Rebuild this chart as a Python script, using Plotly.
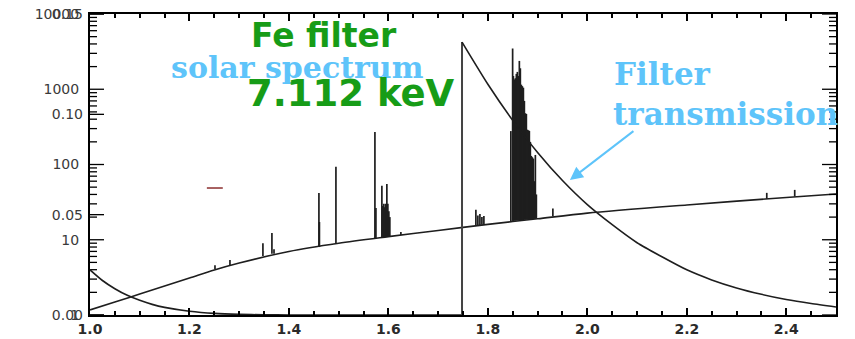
import plotly.graph_objects as go

# --- solar spectrum (counts, log axis) ---
# smooth continuum, wavelength in Angstrom
continuum_wl = [1.00, 1.05, 1.10, 1.20, 1.25, 1.30, 1.40, 1.50, 1.60, 1.70,
                1.80, 1.90, 2.00, 2.20, 2.40, 2.50]
continuum_counts = [1.17, 1.49, 1.90, 3.1, 3.96, 4.9, 7.0, 9.0, 11.0, 13.3,
                    16.0, 19.0, 22.6, 29.0, 36.4, 40.5]

# emission lines: wavelength, base level, peak level
line_wl = [1.2513, 1.2814, 1.3477, 1.3658, 1.3700, 1.4603, 1.4613, 1.4945,
           1.5729, 1.5749, 1.5869, 1.5889, 1.5909, 1.5929, 1.5949, 1.5969,
           1.5989, 1.6009, 1.6029, 1.6251,
           1.7759, 1.7799, 1.7840, 1.7880, 1.7920,
           1.8462, 1.8498, 1.8513, 1.8533, 1.8553, 1.8573, 1.8593, 1.8613,
           1.8633, 1.8653, 1.8673, 1.8693, 1.8714, 1.8734, 1.8754, 1.8774,
           1.8794, 1.8814, 1.8834, 1.8854, 1.8874, 1.8894, 1.8915, 1.8935,
           1.8955, 1.8975,
           1.9307, 2.3608, 2.4170]
line_base = [4.1, 4.6, 6.1, 6.5, 6.5, 8.0, 8.0, 9.0,
             10.5, 10.5, 10.8, 10.8, 10.8, 10.9, 10.9, 11.0,
             11.0, 11.1, 11.1, 11.6,
             15.5, 15.6, 15.7, 15.8, 15.9,
             17.7, 17.8, 17.8, 17.9, 17.9, 18.0, 18.0, 18.1,
             18.1, 18.2, 18.2, 18.3, 18.3, 18.4, 18.4, 18.5,
             18.5, 18.6, 18.6, 18.7, 18.7, 18.8, 18.8, 18.9,
             18.9, 19.0,
             20.5, 35.0, 37.5]
line_peak = [4.6, 5.4, 9.0, 12.3, 7.5, 41.8, 17.2, 93.0,
             270.0, 26.4, 52.0, 28.0, 30.0, 27.0, 30.0, 55.0,
             30.0, 24.0, 20.0, 12.7,
             25.0, 21.0, 22.0, 20.0, 20.7,
             278.0, 3480.0, 1500.0, 1350.0, 1400.0, 1600.0, 1700.0, 1500.0,
             2380.0, 1900.0, 1150.0, 1100.0, 1050.0, 700.0, 480.0, 470.0,
             290.0, 285.0, 280.0, 200.0, 130.0, 125.0, 120.0, 60.0,
             134.0, 40.0,
             26.0, 42.0, 46.0]

# small marker dash
dash_wl = [1.235, 1.267]
dash_counts = [48.7, 48.7]

# --- Fe filter transmission (linear axis) ---
edge_wl = 1.748          # Fe K edge, 7.112 keV
edge_top = 0.136
trans_lo_wl = [1.00, 1.025, 1.05, 1.075, 1.10, 1.125, 1.15, 1.20, 1.25, 1.30,
               1.35, 1.40, 1.50, 1.60, 1.70, 1.748]
trans_lo = [0.0225, 0.0172, 0.0131, 0.0098, 0.0073, 0.0053, 0.0038, 0.0019,
            0.0008, 0.0003, 0.0001, 0.0, 0.0, 0.0, 0.0, 0.0]
trans_hi_wl = [1.748, 1.80, 1.85, 1.90, 1.95, 2.00, 2.05, 2.10, 2.15, 2.20,
               2.25, 2.30, 2.35, 2.40, 2.45, 2.50]
trans_hi = [0.136, 0.115, 0.097, 0.081, 0.067, 0.055, 0.045, 0.036, 0.029,
            0.0225, 0.0175, 0.0135, 0.0103, 0.0077, 0.0057, 0.0040]

# axis ranges and tick labels
x_range = [1.0, 2.5]
log_range = [0, 4]          # decades: 1 .. 10000 counts
lin_range = [0.0, 0.15]     # transmission
log_ticks = [1, 10, 100, 1000, 10000]
log_labels = ["1", "10", "100", "1000", "10000"]
log_minor = [m * 10 ** d for d in range(4) for m in range(2, 10)]
lin_ticks = [0.0, 0.05, 0.10, 0.15]
lin_labels = ["0.00", "0.05", "0.10", "0.15"]
x_ticks = [1.0, 1.2, 1.4, 1.6, 1.8, 2.0, 2.2, 2.4]
x_labels = ["1.0", "1.2", "1.4", "1.6", "1.8", "2.0", "2.2", "2.4"]

INK = "#1e1e1e"
GREEN = "#179c17"
SKY = "#5ec4fa"
PLOT_W = 855 - 90 - 19   # plot-area width in px, for tick lengths

fig = go.Figure()

fig.add_trace(go.Scatter(x=continuum_wl, y=continuum_counts, mode="lines",
                         line=dict(color=INK, width=1.6, shape="spline", smoothing=0.8),
                         yaxis="y", hoverinfo="skip"))

seg_x, seg_y = [], []
for wl, b, p in zip(line_wl, line_base, line_peak):
    seg_x += [wl, wl, None]
    seg_y += [b, p, None]
fig.add_trace(go.Scatter(x=seg_x, y=seg_y, mode="lines",
                         line=dict(color=INK, width=1.7), yaxis="y"))

fig.add_trace(go.Scatter(x=dash_wl, y=dash_counts, mode="lines",
                         line=dict(color="#8b2e2e", width=1.5), yaxis="y"))

fig.add_trace(go.Scatter(x=trans_lo_wl, y=trans_lo, mode="lines",
                         line=dict(color=INK, width=1.6, shape="spline", smoothing=0.6),
                         yaxis="y2"))
fig.add_trace(go.Scatter(x=[edge_wl, edge_wl], y=[0, edge_top], mode="lines",
                         line=dict(color="#444444", width=2), yaxis="y2"))
fig.add_trace(go.Scatter(x=trans_hi_wl, y=trans_hi, mode="lines",
                         line=dict(color=INK, width=1.6, shape="spline", smoothing=0.6),
                         yaxis="y2"))


# inward tick marks on the frame edges, drawn as short line segments
def tick_segments(values, length_px, sides):
    dx = length_px / PLOT_W * (x_range[1] - x_range[0])
    xs, ys = [], []
    for v in values:
        if "left" in sides:
            xs += [x_range[0], x_range[0] + dx, None]
            ys += [v, v, None]
        if "right" in sides:
            xs += [x_range[1] - dx, x_range[1], None]
            ys += [v, v, None]
    return xs, ys


tx, ty = tick_segments(log_ticks, 14, ("left", "right"))
mx, my = tick_segments(log_minor, 7, ("left", "right"))
fig.add_trace(go.Scatter(x=tx + mx, y=ty + my, mode="lines", yaxis="y",
                         line=dict(color="black", width=1.3), hoverinfo="skip",
                         cliponaxis=False))
lx, ly = tick_segments(lin_ticks, 14, ("left",))
fig.add_trace(go.Scatter(x=lx, y=ly, mode="lines", yaxis="y2",
                         line=dict(color="black", width=1.3), hoverinfo="skip",
                         cliponaxis=False))

tick_font = dict(family="DejaVu Sans", size=14, color="#3a3a3a")

fig.update_layout(
    width=855, height=339,
    margin=dict(l=90, r=19, t=14, b=24),
    paper_bgcolor="white", plot_bgcolor="white",
    showlegend=False,
    xaxis=dict(range=x_range, tickvals=x_ticks, ticktext=x_labels,
               ticks="inside", ticklen=7, tickwidth=1.5, tickcolor="black",
               minor=dict(dtick=0.05, tick0=1.0, ticks="inside", ticklen=4,
                          tickcolor="black", showgrid=False),
               showline=True, linewidth=2, linecolor="black", mirror="ticks",
               showgrid=False, zeroline=False, automargin=False,
               tickfont=dict(family="DejaVu Sans", size=14, color="#2a2a2a",
                             weight="bold")),
    yaxis=dict(type="log", range=log_range, tickvals=log_ticks, ticktext=log_labels,
               ticks="", showline=True, linewidth=2, linecolor="black", mirror=True,
               showgrid=False, zeroline=False, automargin=False,
               ticklabelstandoff=6, tickfont=tick_font),
    yaxis2=dict(overlaying="y", side="left", anchor="x", range=lin_range,
                tickvals=lin_ticks, ticktext=lin_labels, ticks="",
                showline=False, showgrid=False, zeroline=False, automargin=False,
                ticklabelstandoff=6, tickfont=tick_font),
)

fig.add_annotation(text="Fe filter", xref="paper", yref="paper", x=0.3137, y=0.927,
                   xanchor="center", yanchor="middle", showarrow=False,
                   font=dict(family="DejaVu Sans", size=33, color=GREEN, weight="bold"))
fig.add_annotation(text="solar spectrum", xref="paper", yref="paper", x=0.2788, y=0.822,
                   xanchor="center", yanchor="middle", showarrow=False,
                   font=dict(family="DejaVu Serif", size=30, color=SKY, weight="bold"))
fig.add_annotation(text="7.112 keV", xref="paper", yref="paper", x=0.3499, y=0.7375,
                   xanchor="center", yanchor="middle", showarrow=False,
                   font=dict(family="DejaVu Sans", size=37, color=GREEN, weight="bold"))
fig.add_annotation(text="Filter", xref="paper", yref="paper", x=0.768, y=0.80,
                   xanchor="center", yanchor="middle", showarrow=False,
                   font=dict(family="DejaVu Serif", size=31, color=SKY, weight="bold"))
fig.add_annotation(text="transmission", xref="paper", yref="paper", x=0.8525, y=0.668,
                   xanchor="center", yanchor="middle", showarrow=False,
                   font=dict(family="DejaVu Serif", size=31, color=SKY, weight="bold"))
fig.add_annotation(text="", x=1.965, y=0.0673, xref="x", yref="y2",
                   ax=65, ay=-50, showarrow=True, arrowhead=2, arrowsize=1.3,
                   arrowwidth=2, arrowcolor=SKY)

fig.write_html("out.html")
